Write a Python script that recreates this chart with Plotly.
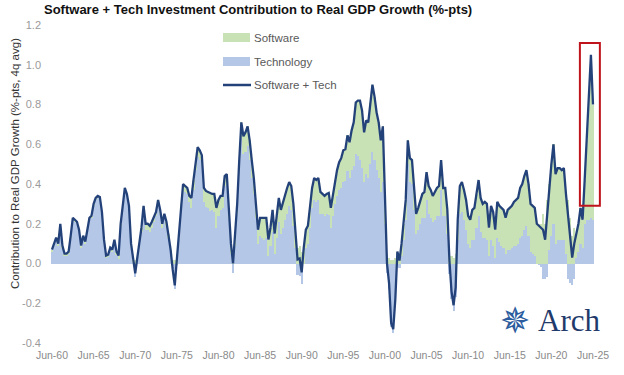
import plotly.graph_objects as go

# ---------------- data (quarterly, Jun-60 .. Jun-25) ----------------
software_plus_tech = [
    0.07, 0.10, 0.13, 0.10, 0.20, 0.09, 0.05, 0.05, 0.06, 0.14,
    0.23, 0.22, 0.21, 0.17, 0.09, 0.14, 0.11, 0.17, 0.23, 0.24,
    0.30, 0.33, 0.34, 0.335, 0.26, 0.12, 0.04, 0.045, 0.08, 0.07,
    0.12, 0.06, 0.04, 0.20, 0.30, 0.38, 0.35, 0.29, 0.10, 0.02,
    -0.05, 0.03, 0.10, 0.18, 0.29, 0.20, 0.20, 0.19, 0.21, 0.24,
    0.26, 0.32, 0.27, 0.20, 0.25, 0.21, 0.15, 0.07, -0.03, -0.11,
    0.02, 0.16, 0.30, 0.40, 0.39, 0.38, 0.34, 0.33, 0.42, 0.52,
    0.585, 0.57, 0.545, 0.38, 0.365, 0.36, 0.355, 0.35, 0.35, 0.28,
    0.32, 0.34, 0.34, 0.44, 0.45, 0.28, 0.10, 0.00, 0.14, 0.30,
    0.52, 0.71, 0.64, 0.66, 0.69, 0.62, 0.52, 0.43, 0.30, 0.17,
    0.23, 0.23, 0.23, 0.23, 0.12, 0.18, 0.27, 0.15, 0.24, 0.33,
    0.27, 0.31, 0.35, 0.38, 0.41, 0.39, 0.30, 0.18, 0.02, 0.025,
    -0.045, 0.08, 0.17, 0.19, 0.28, 0.38, 0.43, 0.42, 0.43, 0.36,
    0.35, 0.34, 0.35, 0.355, 0.28, 0.35, 0.42, 0.47, 0.51, 0.53,
    0.57, 0.575, 0.645, 0.61, 0.67, 0.71, 0.81, 0.82, 0.82, 0.77,
    0.66, 0.72, 0.71, 0.81, 0.90, 0.84, 0.76, 0.71, 0.62, 0.69,
    0.35, 0.00, -0.10, -0.30, -0.33, -0.18, 0.06, 0.015, 0.10, 0.20,
    0.32, 0.62, 0.53, 0.52, 0.38, 0.25, 0.28, 0.32, 0.35, 0.36,
    0.46, 0.39, 0.37, 0.34, 0.36, 0.38, 0.39, 0.52, 0.38, 0.38,
    0.27, 0.015, -0.14, -0.21, -0.12, 0.22, 0.39, 0.41, 0.37, 0.32,
    0.24, 0.22, 0.27, 0.28, 0.35, 0.42, 0.33, 0.30, 0.31, 0.30,
    0.18, 0.29, 0.26, 0.17, 0.31, 0.29, 0.28, 0.27, 0.23, 0.27,
    0.28, 0.29, 0.31, 0.32, 0.33, 0.38, 0.40, 0.44, 0.47, 0.40,
    0.30, 0.29, 0.28, 0.20, 0.19, 0.18, 0.17, 0.12, 0.25, 0.40,
    0.50, 0.60, 0.45, 0.48, 0.48, 0.47, 0.48, 0.35, 0.24, 0.13,
    0.03, 0.10, 0.15, 0.20, 0.28, 0.22, 0.42, 0.62, 0.84, 1.05,
    0.80,
]

software = [
    0.01, 0.01, 0.01, 0.01, 0.01, 0.01, 0.01, 0.01, 0.01, 0.01,
    0.01, 0.01, 0.01, 0.01, 0.01, 0.01, 0.01, 0.01, 0.01, 0.01,
    0.01, 0.01, 0.01, 0.01, 0.01, 0.01, 0.01, 0.01, 0.01, 0.01,
    0.015, 0.015, 0.015, 0.015, 0.015, 0.015, 0.015, 0.015, 0.015, 0.015,
    0.02, 0.02, 0.02, 0.02, 0.03, 0.03, 0.03, 0.03, 0.03, 0.03,
    0.02, 0.02, 0.02, 0.02, 0.02, 0.02, 0.02, 0.02, 0.02, 0.02,
    0.03, 0.03, 0.03, 0.03, 0.03, 0.03, 0.03, 0.05, 0.05, 0.05,
    0.05, 0.05, 0.05, 0.07, 0.08, 0.08, 0.09, 0.08, 0.09, 0.10,
    0.08, 0.07, 0.06, 0.05, 0.05, 0.05, 0.05, 0.05, 0.05, 0.05,
    0.06, 0.08, 0.09, 0.10, 0.10, 0.10, 0.09, 0.08, 0.07, 0.07,
    0.09, 0.10, 0.11, 0.10, 0.08, 0.09, 0.11, 0.10, 0.11, 0.12,
    0.12, 0.13, 0.13, 0.13, 0.12, 0.12, 0.11, 0.10, 0.08, 0.09,
    0.06, 0.08, 0.09, 0.09, 0.10, 0.10, 0.11, 0.11, 0.11, 0.11,
    0.10, 0.10, 0.10, 0.11, 0.10, 0.11, 0.12, 0.13, 0.14, 0.15,
    0.16, 0.16, 0.18, 0.18, 0.20, 0.22, 0.26, 0.28, 0.30, 0.29,
    0.25, 0.27, 0.28, 0.31, 0.34, 0.32, 0.29, 0.28, 0.26, 0.28,
    0.15, 0.05, 0.03, 0.02, 0.02, 0.03, 0.05, 0.04, 0.06, 0.08,
    0.10, 0.12, 0.12, 0.12, 0.11, 0.10, 0.11, 0.12, 0.12, 0.13,
    0.14, 0.14, 0.14, 0.13, 0.14, 0.14, 0.15, 0.15, 0.14, 0.14,
    0.12, 0.07, 0.04, 0.03, 0.05, 0.10, 0.14, 0.15, 0.15, 0.15,
    0.14, 0.14, 0.15, 0.16, 0.17, 0.18, 0.17, 0.17, 0.18, 0.18,
    0.14, 0.17, 0.17, 0.14, 0.18, 0.18, 0.19, 0.19, 0.18, 0.20,
    0.21, 0.21, 0.22, 0.23, 0.23, 0.25, 0.26, 0.27, 0.28, 0.26,
    0.24, 0.24, 0.24, 0.20, 0.20, 0.20, 0.25, 0.20, 0.32, 0.33,
    0.36, 0.40, 0.35, 0.36, 0.36, 0.35, 0.36, 0.30, 0.32, 0.23,
    0.14, 0.18, 0.12, 0.14, 0.18, 0.14, 0.22, 0.40, 0.62, 0.82,
    0.58,
]

# Technology = (Software + Tech) - Software
technology = [round(t - s, 4) for t, s in zip(software_plus_tech, software)]

quarter_index = list(range(len(software_plus_tech)))

x_tick_index = [0, 20, 40, 60, 80, 100, 120, 140, 160, 180, 200, 220, 240, 260]
x_tick_labels = ["Jun-60", "Jun-65", "Jun-70", "Jun-75", "Jun-80", "Jun-85", "Jun-90",
                 "Jun-95", "Jun-00", "Jun-05", "Jun-10", "Jun-15", "Jun-20", "Jun-25"]
y_tick_values = [-0.4, -0.2, 0.0, 0.2, 0.4, 0.6, 0.8, 1.0, 1.2]
y_tick_labels = ["-0.4", "-0.2", "0.0", "0.2", "0.4", "0.6", "0.8", "1.0", "1.2"]

highlight_x = [253.7, 263.3]
highlight_y = [0.29, 1.11]

# ---------------- layout helpers ----------------
W, H = 624, 375
ML, MR, MT, MB = 46, 14, 25, 32
PW, PH = W - ML - MR, H - MT - MB


def px(xp):
    return (xp - ML) / PW


def py(yp):
    return (H - MB - yp) / PH


FONT = "Liberation Sans, Arial, sans-serif"

C_TECH = "#b4c7e7"
C_SOFT = "#c8e2b6"
C_LINE = "#24427a"

fig = go.Figure()
fig.add_trace(go.Bar(x=quarter_index, y=technology, name="Technology",
                     marker=dict(color=C_TECH, line=dict(width=0)), width=1.0,
                     showlegend=False))
fig.add_trace(go.Bar(x=quarter_index, y=software, name="Software",
                     marker=dict(color=C_SOFT, line=dict(width=0)), width=1.0,
                     showlegend=False))
fig.add_trace(go.Scatter(x=quarter_index, y=software_plus_tech, mode="lines",
                         name="Software + Tech",
                         line=dict(color=C_LINE, width=2.3), showlegend=False))

shapes = [
    dict(type="rect", xref="x", yref="y", x0=highlight_x[0], x1=highlight_x[1],
         y0=highlight_y[0], y1=highlight_y[1], line=dict(color="#c0141c", width=2),
         fillcolor="rgba(0,0,0,0)"),
    # manual legend
    dict(type="rect", xref="paper", yref="paper", x0=px(223), x1=px(250),
         y0=py(42), y1=py(33), line=dict(width=0), fillcolor=C_SOFT),
    dict(type="rect", xref="paper", yref="paper", x0=px(223), x1=px(250),
         y0=py(66), y1=py(57), line=dict(width=0), fillcolor=C_TECH),
    dict(type="line", xref="paper", yref="paper", x0=px(223), x1=px(251),
         y0=py(85), y1=py(85), line=dict(color=C_LINE, width=2.5)),
]

annotations = [
    dict(text="<b>Software + Tech Investment Contribution to Real GDP Growth (%-pts)</b>",
         xref="paper", yref="paper", x=px(258), y=py(9), xanchor="center", yanchor="middle",
         showarrow=False, font=dict(family=FONT, size=13, color="#111111")),
    dict(text="Contribution to Real GDP Growth (%-pts, 4q avg)", textangle=-90,
         xref="paper", yref="paper", x=px(15), y=py(164), xanchor="center", yanchor="middle",
         showarrow=False, font=dict(family=FONT, size=11.5, color="#333333")),
    dict(text="Software", xref="paper", yref="paper", x=px(252), y=py(37.5),
         xanchor="left", yanchor="middle", showarrow=False,
         font=dict(family=FONT, size=11.5, color="#595959")),
    dict(text="Technology", xref="paper", yref="paper", x=px(252), y=py(61.5),
         xanchor="left", yanchor="middle", showarrow=False,
         font=dict(family=FONT, size=11.5, color="#595959")),
    dict(text="Software + Tech", xref="paper", yref="paper", x=px(252), y=py(85),
         xanchor="left", yanchor="middle", showarrow=False,
         font=dict(family=FONT, size=11.5, color="#595959")),
    # logo
    dict(text="\u2735", xref="paper", yref="paper", x=px(515), y=py(320),
         xanchor="center", yanchor="middle", showarrow=False,
         font=dict(family="DejaVu Sans", size=36, color="#2b5c9e")),
    dict(text="Arch", xref="paper", yref="paper", x=px(569), y=py(320),
         xanchor="center", yanchor="middle", showarrow=False,
         font=dict(family="Liberation Serif, Times New Roman, serif", size=31, color="#1f3a6b")),
]

fig.update_layout(
    width=W, height=H,
    margin=dict(l=ML, r=MR, t=MT, b=MB, pad=0),
    paper_bgcolor="white", plot_bgcolor="white",
    barmode="relative", bargap=0,
    showlegend=False, hovermode=False,
    shapes=shapes, annotations=annotations,
    xaxis=dict(range=[-2.88, 268.17], tickmode="array", tickvals=x_tick_index,
               ticktext=x_tick_labels, showgrid=False, zeroline=False, showline=False,
               ticks="", tickangle=0, ticklabelstandoff=4,
               tickfont=dict(family=FONT, size=10.5, color="#8a8a8a")),
    yaxis=dict(range=[-0.4, 1.2], tickmode="array", tickvals=y_tick_values,
               ticktext=y_tick_labels, showgrid=False, zeroline=False, showline=False,
               ticks="", ticklabelstandoff=4,
               tickfont=dict(family=FONT, size=11, color="#9a9a9a")),
)

fig.write_html("out.html", config={"displayModeBar": False},
               post_script="document.body.style.margin='0px';document.body.style.padding='0px';")
